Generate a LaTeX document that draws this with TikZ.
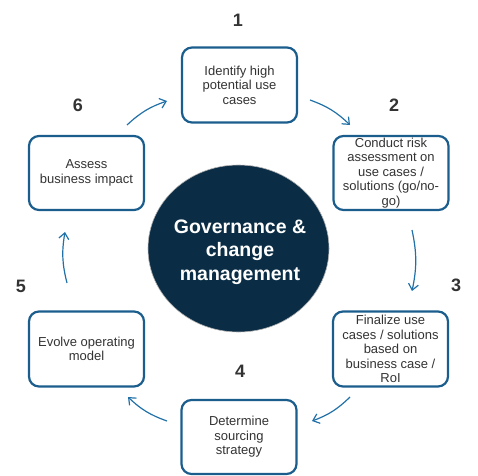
\documentclass[tikz,border=0pt]{standalone}
\usepackage{fontspec}
\setmainfont{Liberation Sans}
\usepackage{xcolor}
\usetikzlibrary{shapes.geometric,arrows.meta}
\definecolor{boxblue}{RGB}{27,94,142}
\definecolor{arrowblue}{RGB}{33,113,168}
\definecolor{navy}{RGB}{10,45,69}
\definecolor{textgrey}{RGB}{51,51,51}
\begin{document}
\begin{tikzpicture}[x=1pt,y=1pt]
\tikzstyle{every node}=[font=\fontsize{13}{14.5}\selectfont]
\tikzstyle{stepbox}=[draw=boxblue,line width=2.2pt,rounded corners=10pt,fill=white,minimum width=115pt,minimum height=75pt,align=center,text=textgrey,inner sep=1pt]
\tikzstyle{steplabel}=[font=\fontsize{18}{18}\bfseries\selectfont,text=textgrey]
\tikzstyle{flow}=[draw=arrowblue,line width=1.2pt,-{Straight Barb[length=6pt,width=10pt]}]
\useasboundingbox (0,0) rectangle (478,475);
% centre
\node [ellipse,fill=navy,draw=gray!60,line width=0.6pt,minimum width=181pt,minimum height=167pt] (core) at (238.5,226.5) {};
\node [align=center,text=white,font=\fontsize{19.5}{23.5}\bfseries\selectfont] (coretext) at (240,223) {Governance \&\\change\\management};
% steps
\node [stepbox] (s1) at (239.5,390) {Identify high\\potential use\\cases};
\node [stepbox,minimum height=74pt] (s2) at (391,302) {Conduct risk\\assessment on\\use cases /\\solutions (go/no-\\go)};
\node [stepbox] (s3) at (390.5,126) {Finalize use\\cases / solutions\\based on\\business case /\\RoI};
\node [stepbox,minimum height=74pt] (s4) at (239,38) {Determine\\sourcing\\strategy};
\node [stepbox] (s5) at (86.5,126) {Evolve operating\\model};
\node [stepbox,minimum height=74pt] (s6) at (86.5,302) {Assess\\business impact};
% numbers
\node [steplabel] (n1) at (238,455) {1};
\node [steplabel] (n2) at (394,370) {2};
\node [steplabel] (n3) at (456,190) {3};
\node [steplabel] (n4) at (240,104) {4};
\node [steplabel] (n5) at (21,189) {5};
\node [steplabel] (n6) at (78,370) {6};
% arrow ends
\coordinate (a1) at (310,375);
\coordinate (b1) at (350,350);
\coordinate (a2) at (412,245);
\coordinate (b2) at (412,184);
\coordinate (a3) at (350,78);
\coordinate (b3) at (312,54);
\coordinate (a4) at (167,54);
\coordinate (b4) at (128,78);
\coordinate (a5) at (67,192);
\coordinate (b5) at (65,243);
\coordinate (a6) at (127,350);
\coordinate (b6) at (167,374);
\draw [flow] (a1) to[bend left=12] (b1);
\draw [flow] (a2) to[bend left=12] (b2);
\draw [flow] (a3) to[bend left=12] (b3);
\draw [flow] (a4) to[bend left=12] (b4);
\draw [flow] (a5) to[bend left=12] (b5);
\draw [flow] (a6) to[bend left=12] (b6);
\end{tikzpicture}
\end{document}
